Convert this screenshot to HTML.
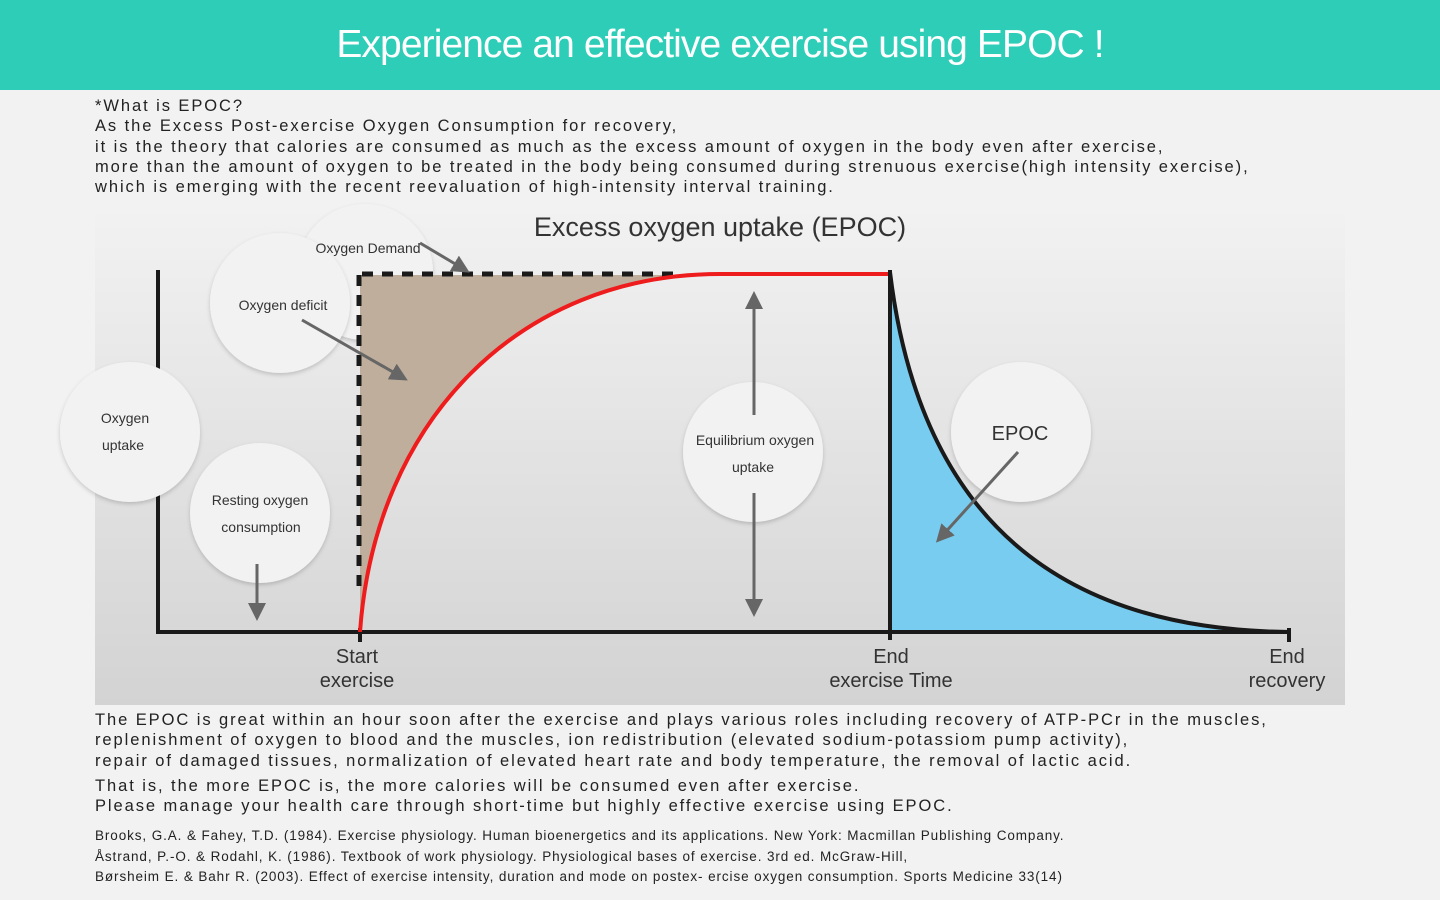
<!DOCTYPE html>
<html><head><meta charset="utf-8"><style>
body{margin:0;width:1440px;height:900px;background:#f2f2f2;font-family:"Liberation Sans","DejaVu Sans",sans-serif;overflow:hidden;position:relative}
.hdr{position:absolute;left:0;top:0;width:1440px;height:90px;background:#2dcdb8;color:#fff;font-size:39px;text-align:center;line-height:90px;letter-spacing:-0.9px}
.t{position:absolute;left:95px;color:#222;font-size:16.5px;letter-spacing:1.93px;line-height:20.3px;white-space:nowrap}
.r{position:absolute;left:95px;color:#222;font-size:13.5px;letter-spacing:0.9px;line-height:20.5px;white-space:nowrap}
</style></head><body>
<div class="hdr">Experience an effective exercise using EPOC !</div>
<div class="t" style="top:96px">*What is EPOC?<br>As the Excess Post-exercise Oxygen Consumption for recovery,<br>it is the theory that calories are consumed as much as the excess amount of oxygen in the body even after exercise,<br>more than the amount of oxygen to be treated in the body being consumed during strenuous exercise(high intensity exercise),<br>which is emerging with the recent reevaluation of high-intensity interval training.</div>
<svg style="position:absolute;left:0;top:0" width="1440" height="900">
<defs>
<linearGradient id="bg" gradientUnits="userSpaceOnUse" x1="0" y1="205" x2="0" y2="705"><stop offset="0" stop-color="#f2f2f2"/><stop offset="1" stop-color="#d3d3d3"/></linearGradient>
<filter id="sh" x="-20%" y="-20%" width="140%" height="140%"><feDropShadow dx="0" dy="2" stdDeviation="2" flood-color="#000" flood-opacity="0.18"/></filter>
<marker id="ah" markerWidth="6" markerHeight="6" refX="3" refY="3" orient="auto" markerUnits="strokeWidth"><path d="M0,0 L6,3 L0,6Z" fill="#666"/></marker>
</defs>
<rect x="95" y="205" width="1250" height="500" fill="url(#bg)"/>
<circle cx="365" cy="272" r="68" fill="#f2f2f2" filter="url(#sh)"/>
<text x="720" y="236" text-anchor="middle" font-size="27" fill="#333">Excess oxygen uptake (EPOC)</text>
<path d="M360,275 L690,275 L690,500 L360,632Z" fill="#c0ae9c"/>
<path d="M360,632 C375,420 520,274 720,274 L720,632Z" fill="url(#bg)"/>
<path d="M890,272 C920,520 1060,630 1290,632 L890,632Z" fill="#77ccf0"/>
<line x1="158" y1="270" x2="158" y2="634" stroke="#1a1a1a" stroke-width="4"/>
<line x1="156" y1="632" x2="1290" y2="632" stroke="#1a1a1a" stroke-width="4"/>
<line x1="1289" y1="628" x2="1289" y2="642" stroke="#1a1a1a" stroke-width="4"/>
<line x1="360" y1="628" x2="360" y2="642" stroke="#1a1a1a" stroke-width="4"/>
<line x1="359" y1="275" x2="359" y2="590" stroke="#1a1a1a" stroke-width="5" stroke-dasharray="11,9"/>
<line x1="362" y1="274" x2="680" y2="274" stroke="#1a1a1a" stroke-width="5" stroke-dasharray="11,9"/>
<path d="M360,632 C375,420 520,274 720,274 L890,274" fill="none" stroke="#ee1c1c" stroke-width="4"/>
<line x1="890" y1="270" x2="890" y2="640" stroke="#1a1a1a" stroke-width="4"/>
<path d="M890,272 C920,520 1060,630 1290,632" fill="none" stroke="#1a1a1a" stroke-width="4"/>
<circle cx="130" cy="432" r="70" fill="#f2f2f2" filter="url(#sh)"/>
<circle cx="280" cy="303" r="70" fill="#f2f2f2" filter="url(#sh)"/>
<circle cx="260" cy="513" r="70" fill="#f2f2f2" filter="url(#sh)"/>
<circle cx="753" cy="452" r="70" fill="#f2f2f2" filter="url(#sh)"/>
<circle cx="1021" cy="432" r="70" fill="#f2f2f2" filter="url(#sh)"/>
<g stroke="#666" stroke-width="3" marker-end="url(#ah)">
<line x1="420" y1="243" x2="462" y2="268"/>
<line x1="302" y1="320" x2="400" y2="376"/>
<line x1="257" y1="564" x2="257" y2="612"/>
<line x1="754" y1="415" x2="754" y2="300"/>
<line x1="754" y1="493" x2="754" y2="608"/>
<line x1="1018" y1="452" x2="942" y2="536"/>
</g>
<g font-size="14" fill="#333" text-anchor="middle">
<text x="368" y="253">Oxygen Demand</text>
<text x="283" y="310">Oxygen deficit</text>
<text x="125" y="423">Oxygen</text><text x="123" y="450">uptake</text>
<text x="260" y="505">Resting oxygen</text><text x="261" y="532">consumption</text>
<text x="755" y="445">Equilibrium oxygen</text><text x="753" y="472">uptake</text>
<text x="1020" y="440" font-size="20">EPOC</text>
</g>
<g font-size="20" fill="#333" text-anchor="middle">
<text x="357" y="663">Start</text><text x="357" y="687">exercise</text>
<text x="891" y="663">End</text><text x="891" y="687">exercise Time</text>
<text x="1287" y="663">End</text><text x="1287" y="687">recovery</text>
</g>
</svg>
<div class="t" style="top:710px">The EPOC is great within an hour soon after the exercise and plays various roles including recovery of ATP-PCr in the muscles,<br>replenishment of oxygen to blood and the muscles, ion redistribution (elevated sodium-potassiom pump activity),<br>repair of damaged tissues, normalization of elevated heart rate and body temperature, the removal of lactic acid.</div>
<div class="t" style="top:776px">That is, the more EPOC is, the more calories will be consumed even after exercise.<br>Please manage your health care through short-time but highly effective exercise using EPOC.</div>
<div class="r" style="top:826px">Brooks, G.A. &amp; Fahey, T.D. (1984). Exercise physiology. Human bioenergetics and its applications. New York: Macmillan Publishing Company.<br>Åstrand, P.-O. &amp; Rodahl, K. (1986). Textbook of work physiology. Physiological bases of exercise. 3rd ed. McGraw-Hill,<br>Børsheim E. &amp; Bahr R. (2003). Effect of exercise intensity, duration and mode on postex- ercise oxygen consumption. Sports Medicine 33(14)</div>
</body></html>
